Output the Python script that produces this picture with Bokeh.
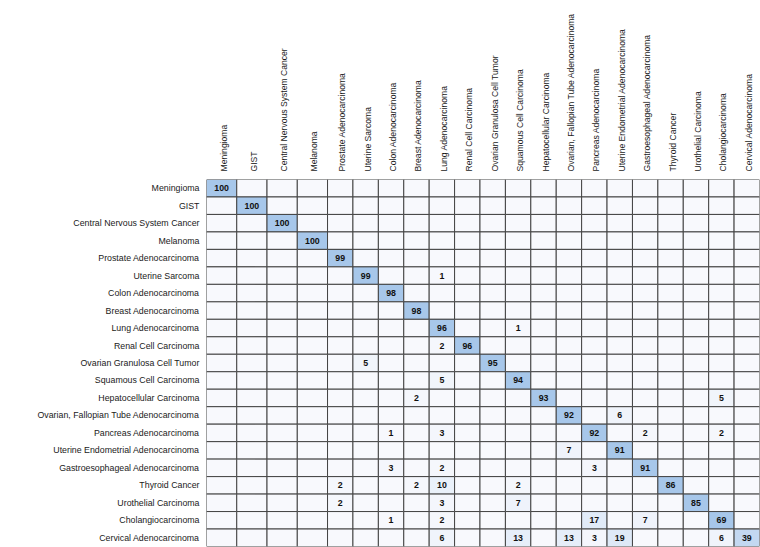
import math
from bokeh.plotting import figure
from bokeh.models import ColumnDataSource, FactorRange, Range1d, LinearAxis, FixedTicker
from bokeh.embed import file_html
from bokeh.resources import INLINE
from bokeh.core.properties import value

classes = [
    "Meningioma",
    "GIST",
    "Central Nervous System Cancer",
    "Melanoma",
    "Prostate Adenocarcinoma",
    "Uterine Sarcoma",
    "Colon Adenocarcinoma",
    "Breast Adenocarcinoma",
    "Lung Adenocarcinoma",
    "Renal Cell Carcinoma",
    "Ovarian Granulosa Cell Tumor",
    "Squamous Cell Carcinoma",
    "Hepatocellular Carcinoma",
    "Ovarian, Fallopian Tube Adenocarcinoma",
    "Pancreas Adenocarcinoma",
    "Uterine Endometrial Adenocarcinoma",
    "Gastroesophageal Adenocarcinoma",
    "Thyroid Cancer",
    "Urothelial Carcinoma",
    "Cholangiocarcinoma",
    "Cervical Adenocarcinoma",
]

# rows: true class, columns: predicted class (percent)
matrix = [
    [100, 0, 0, 0, 0, 0, 0, 0, 0, 0, 0, 0, 0, 0, 0, 0, 0, 0, 0, 0, 0],
    [0, 100, 0, 0, 0, 0, 0, 0, 0, 0, 0, 0, 0, 0, 0, 0, 0, 0, 0, 0, 0],
    [0, 0, 100, 0, 0, 0, 0, 0, 0, 0, 0, 0, 0, 0, 0, 0, 0, 0, 0, 0, 0],
    [0, 0, 0, 100, 0, 0, 0, 0, 0, 0, 0, 0, 0, 0, 0, 0, 0, 0, 0, 0, 0],
    [0, 0, 0, 0, 99, 0, 0, 0, 0, 0, 0, 0, 0, 0, 0, 0, 0, 0, 0, 0, 0],
    [0, 0, 0, 0, 0, 99, 0, 0, 1, 0, 0, 0, 0, 0, 0, 0, 0, 0, 0, 0, 0],
    [0, 0, 0, 0, 0, 0, 98, 0, 0, 0, 0, 0, 0, 0, 0, 0, 0, 0, 0, 0, 0],
    [0, 0, 0, 0, 0, 0, 0, 98, 0, 0, 0, 0, 0, 0, 0, 0, 0, 0, 0, 0, 0],
    [0, 0, 0, 0, 0, 0, 0, 0, 96, 0, 0, 1, 0, 0, 0, 0, 0, 0, 0, 0, 0],
    [0, 0, 0, 0, 0, 0, 0, 0, 2, 96, 0, 0, 0, 0, 0, 0, 0, 0, 0, 0, 0],
    [0, 0, 0, 0, 0, 5, 0, 0, 0, 0, 95, 0, 0, 0, 0, 0, 0, 0, 0, 0, 0],
    [0, 0, 0, 0, 0, 0, 0, 0, 5, 0, 0, 94, 0, 0, 0, 0, 0, 0, 0, 0, 0],
    [0, 0, 0, 0, 0, 0, 0, 2, 0, 0, 0, 0, 93, 0, 0, 0, 0, 0, 0, 5, 0],
    [0, 0, 0, 0, 0, 0, 0, 0, 0, 0, 0, 0, 0, 92, 0, 6, 0, 0, 0, 0, 0],
    [0, 0, 0, 0, 0, 0, 1, 0, 3, 0, 0, 0, 0, 0, 92, 0, 2, 0, 0, 2, 0],
    [0, 0, 0, 0, 0, 0, 0, 0, 0, 0, 0, 0, 0, 7, 0, 91, 0, 0, 0, 0, 0],
    [0, 0, 0, 0, 0, 0, 3, 0, 2, 0, 0, 0, 0, 0, 3, 0, 91, 0, 0, 0, 0],
    [0, 0, 0, 0, 2, 0, 0, 2, 10, 0, 0, 2, 0, 0, 0, 0, 0, 86, 0, 0, 0],
    [0, 0, 0, 0, 2, 0, 0, 0, 3, 0, 0, 7, 0, 0, 0, 0, 0, 0, 85, 0, 0],
    [0, 0, 0, 0, 0, 0, 1, 0, 2, 0, 0, 0, 0, 0, 17, 0, 7, 0, 0, 69, 0],
    [0, 0, 0, 0, 0, 0, 0, 0, 6, 0, 0, 13, 0, 13, 3, 19, 0, 0, 0, 6, 39],
]

n = len(classes)

# column widths like an auto-sized HTML table: 3-digit columns are wider
WIDE, NARROW = 30.25, 25.4
col_max = [max(row[j] for row in matrix) for j in range(n)]
widths = [WIDE if m >= 100 else NARROW for m in col_max]
lefts = []
acc = 0.0
for w in widths:
    lefts.append(acc)
    acc += w
total = acc
centers = [l + w / 2 for l, w in zip(lefts, widths)]

LOW = (248, 249, 253)
HIGH = (167, 199, 234)


def cell_color(v):
    t = min(v / 60.0, 1.0)
    r, g, b = (round(LOW[k] + (HIGH[k] - LOW[k]) * t) for k in range(3))
    return "#%02x%02x%02x" % (r, g, b)


xs, ys, ws, cols, txt = [], [], [], [], []
for i in range(n):
    for j in range(n):
        v = matrix[i][j]
        xs.append(centers[j])
        ys.append(classes[i])
        ws.append(widths[j])
        cols.append(cell_color(v))
        txt.append(str(v) if v > 0 else "")

src = ColumnDataSource(dict(x=xs, y=ys, w=ws, c=cols, t=txt))

FONT = "Liberation Sans"
LABEL_SHIFT = 2.0  # vertical labels sit slightly right of the column centre

frame_left = 206
frame_top = 179
fig_w = 760
fig_h = 547

p = figure(
    width=fig_w,
    height=fig_h,
    x_range=Range1d(0, total),
    y_range=FactorRange(factors=classes[::-1]),
    output_backend="svg",
    toolbar_location=None,
    x_axis_location=None,
    min_border_left=frame_left,
    min_border_top=frame_top,
    min_border_right=fig_w - frame_left - int(round(total)),
    min_border_bottom=1,
)
p.extra_x_ranges = {"labels": Range1d(-LABEL_SHIFT, total - LABEL_SHIFT)}
p.outline_line_color = None
p.grid.visible = False
p.background_fill_color = "white"
p.border_fill_color = "white"

p.rect(x="x", y="y", width="w", height=1, source=src,
       fill_color="c", line_color="#444444", line_width=1)
p.text(x="x", y="y", text="t", source=src,
       text_align="center", text_baseline="middle",
       text_font=value(FONT), text_font_style="bold",
       text_font_size="8.8px", text_color="#111111")

ya = p.yaxis[0]
ya.axis_line_color = None
ya.major_tick_line_color = None
ya.minor_tick_line_color = None
ya.major_tick_out = 0
ya.major_tick_in = 0
ya.major_label_standoff = 7
ya.major_label_text_font = FONT
ya.major_label_text_font_size = "8.8px"
ya.major_label_text_color = "#1a1a1a"

top = LinearAxis(
    x_range_name="labels",
    ticker=FixedTicker(ticks=centers),
    major_label_overrides={c: name for c, name in zip(centers, classes)},
    major_label_orientation="vertical",
    axis_line_color=None,
    major_tick_line_color=None,
    minor_tick_line_color=None,
    major_tick_out=0,
    major_tick_in=0,
    major_label_standoff=8,
    major_label_text_font=FONT,
    major_label_text_font_size="8.6px",
    major_label_text_color="#1a1a1a",
)
p.add_layout(top, "above")

open("out.html", "w").write(file_html(p, INLINE))
